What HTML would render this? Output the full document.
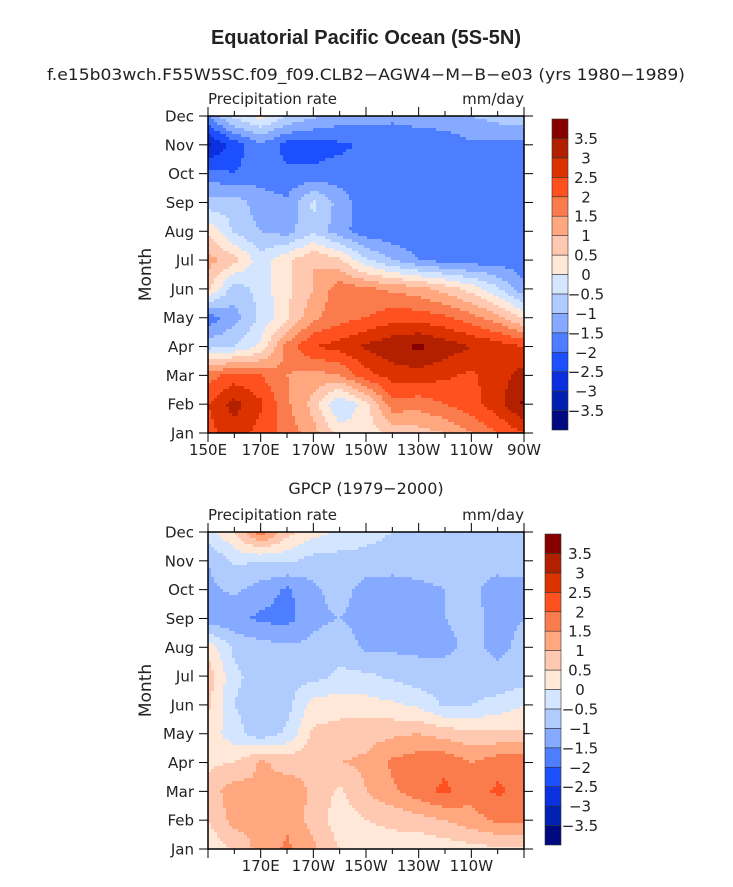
<!DOCTYPE html>
<html><head><meta charset="utf-8"><style>
body{margin:0;background:#fff;width:733px;height:883px;overflow:hidden;font-family:"DejaVu Sans",sans-serif}
svg text{font-family:"DejaVu Sans",sans-serif;fill:#222}
</style></head><body>
<svg id="s" width="733" height="883">
<text x="366" y="44" text-anchor="middle" font-size="20" font-weight="bold" style="font-family:'Liberation Sans',sans-serif">Equatorial Pacific Ocean (5S-5N)</text>
<text x="366" y="80" text-anchor="middle" font-size="16" textLength="638" lengthAdjust="spacingAndGlyphs">f.e15b03wch.F55W5SC.f09_f09.CLB2−AGW4−M−B−e03 (yrs 1980−1989)</text>
<text x="366" y="494" text-anchor="middle" font-size="16">GPCP (1979−2000)</text>
</svg>
<script>
const months=["Jan","Feb","Mar","Apr","May","Jun","Jul","Aug","Sep","Oct","Nov","Dec"];
const lons=["150E","160E","170E","180","170W","160W","150W","140W","130W","120W","110W","100W","90W"];
const levels=[-3.5,-3,-2.5,-2,-1.5,-1,-0.5,0,0.5,1,1.5,2,2.5,3,3.5];
const levelLabels=["−3.5","−3","−2.5","−2","−1.5","−1","−0.5","0","0.5","1","1.5","2","2.5","3","3.5"];
const colors=["#000a80","#0020b0","#0a30e0","#1c50ff","#4c7eff","#86aaff","#b0ccff","#d4e6ff","#ffe8d8","#ffc8b0","#ffa880","#fa7b4b","#ff5020","#dc3200","#b22000","#870000"];
const modelData=[
[2.3,2.8,2.3,1.8,1.2,0.3,0.2,0.7,0.8,1.0,1.5,2.0,2.5],
[2.5,3.2,2.6,1.6,0.8,-0.6,0.3,1.8,1.7,2.0,2.3,2.8,3.6],
[1.8,2.2,2.0,1.5,1.3,1.5,2.3,2.7,2.8,2.6,2.4,2.8,3.2],
[-0.7,-0.5,0.1,1.7,2.5,2.7,3.1,3.4,3.6,3.3,3.0,2.8,2.5],
[-1.8,-1.2,-0.4,0.4,1.4,1.8,2.0,2.3,2.3,2.1,1.7,1.2,0.4],
[0.6,-0.8,-0.3,0.4,1.0,1.8,1.6,1.4,1.2,0.8,0.3,-0.4,-1.4],
[1.2,0.7,-0.3,0.4,1.0,0.6,-0.4,-1.0,-1.5,-1.7,-1.8,-1.8,-1.8],
[0.4,-0.6,-1.0,-1.2,-0.6,-1.3,-1.8,-1.9,-1.9,-1.9,-1.9,-1.9,-1.9],
[-0.8,-0.7,-1.3,-1.4,-0.4,-1.2,-1.8,-1.9,-1.9,-1.9,-1.9,-1.9,-1.9],
[-1.8,-2.0,-1.7,-1.9,-1.9,-1.8,-1.9,-1.9,-1.9,-1.9,-1.9,-1.9,-2.0],
[-3.1,-2.3,-1.6,-2.2,-2.2,-2.1,-1.9,-1.8,-1.8,-1.8,-1.6,-1.6,-1.7],
[-1.5,-0.3,0.2,-0.5,-0.9,-1.2,-1.3,-1.4,-1.3,-1.2,-1.0,-0.8,-0.6]];
const obsData=[
[0.1,0.6,1.2,1.6,1.1,0.5,0.3,0.3,0.1,0.2,0.3,0.4,0.4],
[0.5,1.2,1.1,1.4,0.8,0.2,0.5,0.6,0.8,1.0,1.3,1.6,1.7],
[0.7,1.3,1.0,1.3,0.9,0.4,1.0,1.4,1.8,2.1,1.7,2.1,1.8],
[0.4,0.5,1.1,0.8,0.9,1.0,1.1,1.6,1.8,1.9,1.5,1.8,1.8],
[0.3,-0.3,-0.8,-0.4,0.6,0.7,0.8,0.9,1.0,0.8,0.6,0.6,0.6],
[0.6,-0.5,-0.8,-0.7,0.2,0.3,0.2,0.1,-0.1,-0.6,-0.5,-0.3,0.0],
[0.8,-0.4,-0.7,-0.6,-0.7,-0.4,-0.4,-0.6,-0.8,-0.8,-0.8,-0.9,-0.8],
[0.3,-0.6,-0.8,-0.9,-0.9,-0.7,-1.1,-1.1,-1.1,-1.1,-0.9,-1.1,-0.9],
[-1.3,-1.4,-1.6,-1.7,-1.1,-1.0,-1.2,-1.2,-1.2,-1.0,-0.9,-1.1,-1.0],
[-1.1,-0.9,-1.2,-1.6,-1.1,-0.8,-1.2,-1.2,-1.1,-1.0,-0.9,-1.2,-1.2],
[-1.0,-0.4,-0.5,-0.4,-0.7,-0.7,-0.7,-0.8,-0.8,-0.8,-0.8,-0.8,-0.7],
[-0.2,0.5,1.8,0.7,0.2,-0.1,-0.3,-0.5,-0.7,-0.7,-0.7,-0.7,-0.6]];
const topXLabels=["150E","170E","170W","150W","130W","110W","90W"];
const botXLabels=["","170E","170W","150W","130W","110W",""];

const NS="http://www.w3.org/2000/svg";
const svg=document.getElementById('s');
function mk(tag,attrs,parent){const e=document.createElementNS(NS,tag);for(const k in attrs)e.setAttribute(k,attrs[k]);(parent||svg).appendChild(e);return e;}
function colorFor(v){let i=0;while(i<levels.length&&v>=levels[i])i++;return colors[i];}

function panel(data,top,xLabels,cbX,cbTop,cbBot,lblX,name){
  const L=208,R=524,T=top,B=top+317;
  const nx=lons.length-1,ny=months.length-1;
  const xs=i=>L+(R-L)*i/nx, ys=j=>B-(B-T)*j/ny;
  const g=mk('g',{});
  
  
  const step=3;
  for(let px=L;px<R;px+=step){for(let py=T;py<B;py+=step){
    const fx=(px+step/2-L)/(R-L)*nx, fy=(B-(py+step/2))/(B-T)*ny;
    const i=Math.min(nx-1,Math.floor(fx)),j=Math.min(ny-1,Math.floor(fy));
    const u=fx-i,v=fy-j;
    const val=data[j][i]*(1-u)*(1-v)+data[j][i+1]*u*(1-v)+data[j+1][i]*(1-u)*v+data[j+1][i+1]*u*v;
    const r=mk('rect',{x:px,y:py,width:Math.min(step,R-px)+0.3,height:Math.min(step,B-py)+0.3,fill:colorFor(val)},g);
    
    
  }}
  const fr=mk('rect',{x:L,y:T,width:R-L,height:B-T,fill:'none',stroke:'#000','stroke-width':1.5});
  
  for(let i=0;i<=nx;i++){const x=xs(i);const big=i%2==0;const len=big?9:5;
    mk('line',{x1:x,x2:x,y1:B,y2:B+len,stroke:'#000'});mk('line',{x1:x,x2:x,y1:T,y2:T-len,stroke:'#000'});
    if(big){const lb=xLabels[i/2];if(lb){const t=mk('text',{x:x,y:B+14+8,'text-anchor':'middle','font-size':15});t.textContent=lb;
      }}}
  for(let j=0;j<=ny;j++){const y=ys(j);
    mk('line',{x1:L-9,x2:L,y1:y,y2:y,stroke:'#000'});mk('line',{x1:R,x2:R+9,y1:y,y2:y,stroke:'#000'});
    const t=mk('text',{x:194,y:y+5.5,'text-anchor':'end','font-size':15});t.textContent=months[j];
    }
  let t=mk('text',{x:L,y:T-12,'font-size':15});t.textContent='Precipitation rate';
  
  t=mk('text',{x:R,y:T-12,'font-size':15,'text-anchor':'end'});t.textContent='mm/day';
  
  t=mk('text',{x:0,y:0,'font-size':17,'text-anchor':'middle',transform:`translate(151,${(T+B)/2}) rotate(-90)`});t.textContent='Month';
  
  const n=colors.length,h=(cbBot-cbTop)/n;
  const cb=mk('g',{});
  for(let k=0;k<n;k++){const y=cbBot-(k+1)*h;
    const r=mk('rect',{x:cbX,y:y,width:16,height:h,fill:colors[k],stroke:'#333','stroke-width':0.6},cb);
    }
  for(let k=0;k<levels.length;k++){const y=cbBot-(k+1)*h;
    const tt=mk('text',{x:lblX,y:y+5.5,'font-size':15,'text-anchor':'middle'},cb);tt.textContent=levelLabels[k];
    }
}
panel(modelData,116,topXLabels,552,119,430,586,'model');
panel(obsData,532,botXLabels,545,534,845,580,'obs');
</script>
</body></html>
